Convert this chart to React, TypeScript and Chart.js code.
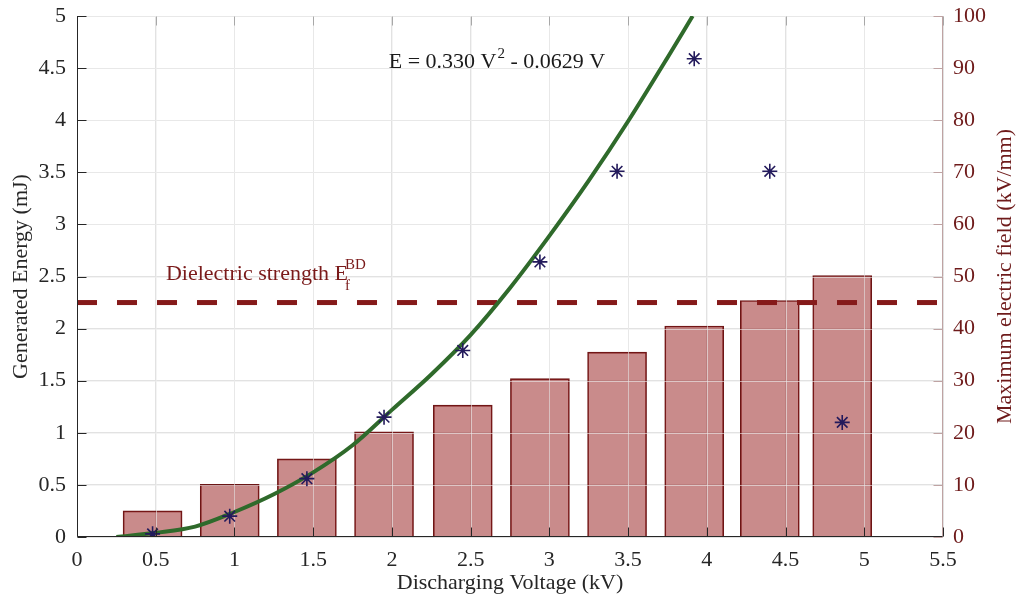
import React, { useEffect, useRef } from 'react';
import { Chart, registerables } from 'chart.js';

Chart.register(...registerables);

// ---- data ----
const voltages = [0.48, 0.97, 1.46, 1.95, 2.45, 2.94, 3.43, 3.92, 4.40, 4.86];
const maxField = [5, 10.1, 15, 20.2, 25.3, 30.4, 35.5, 40.5, 45.4, 50.2];
const energy = [0.03, 0.20, 0.56, 1.15, 1.79, 2.64, 3.51, 4.59, 3.51, 1.10];
const fitVoltage = [0.25, 0.5, 0.75, 1.0, 1.25, 1.5, 1.75, 2.0, 2.25, 2.5, 2.75, 3.0, 3.25, 3.5, 3.75, 3.91];
const fitEnergy = [0.0, 0.04, 0.10, 0.24, 0.41, 0.62, 0.88, 1.22, 1.56, 1.94, 2.39, 2.89, 3.42, 3.99, 4.60, 5.0];
const breakdownField = 45;
const xRange = [0, 5.5];
const energyRange = [0, 5];
const fieldRange = [0, 100];

const FONT = "'Liberation Serif', 'Times New Roman', serif";
const DARK = '#262626';
const RED_TEXT = '#6e1a1a';
const RIGHT_AXIS = '#bfa3a3';

const fmt = (v: any) => String(Number(Number(v).toFixed(3)));

const overlayPlugin = {
  id: 'overlay',
  afterDatasetDraw(chart: any, args: any) {
    if (args.index !== 3) return;
    const { ctx, chartArea: a, scales } = chart;
    ctx.save();
    ctx.beginPath();
    ctx.rect(a.left, a.top, a.right - a.left, a.bottom - a.top);
    ctx.clip();
    ctx.strokeStyle = 'rgba(236,236,236,0.6)';
    ctx.lineWidth = 1;
    for (const t of scales.x.ticks) {
      const px = Math.round(scales.x.getPixelForValue(t.value)) + 0.5;
      ctx.beginPath(); ctx.moveTo(px, a.top); ctx.lineTo(px, a.bottom); ctx.stroke();
    }
    for (const t of scales.y.ticks) {
      const py = Math.round(scales.y.getPixelForValue(t.value)) + 0.5;
      ctx.beginPath(); ctx.moveTo(a.left, py); ctx.lineTo(a.right, py); ctx.stroke();
    }
    ctx.restore();
  },
  afterDraw(chart: any) {
    const { ctx, chartArea: a, scales } = chart;
    const L = Math.round(a.left) + 0.5;
    const R = Math.round(a.right) - 0.5;
    const B = Math.round(a.bottom) - 0.5;
    const T = Math.round(a.top) + 0.5;
    const tl = 9;
    ctx.save();
    ctx.lineWidth = 1;
    for (const t of scales.x.ticks) {
      const px = Math.round(scales.x.getPixelForValue(t.value)) + 0.5;
      ctx.strokeStyle = DARK;
      ctx.beginPath(); ctx.moveTo(px, B); ctx.lineTo(px, B - tl); ctx.stroke();
      ctx.strokeStyle = '#a8a8a8';
      ctx.beginPath(); ctx.moveTo(px, T); ctx.lineTo(px, T + tl); ctx.stroke();
    }
    for (const t of scales.y.ticks) {
      const py = Math.round(scales.y.getPixelForValue(t.value)) + 0.5;
      ctx.strokeStyle = DARK;
      ctx.beginPath(); ctx.moveTo(L, py); ctx.lineTo(L + tl, py); ctx.stroke();
    }
    for (const t of scales.y1.ticks) {
      const py = Math.round(scales.y1.getPixelForValue(t.value)) + 0.5;
      ctx.strokeStyle = RIGHT_AXIS;
      ctx.beginPath(); ctx.moveTo(R, py); ctx.lineTo(R - tl, py); ctx.stroke();
    }
    ctx.strokeStyle = DARK;
    ctx.beginPath(); ctx.moveTo(L, a.top); ctx.lineTo(L, B); ctx.lineTo(a.right, B); ctx.stroke();
    ctx.strokeStyle = RIGHT_AXIS;
    ctx.beginPath(); ctx.moveTo(R, a.top); ctx.lineTo(R, B); ctx.stroke();

    // right axis title (reads bottom-to-top)
    ctx.fillStyle = RED_TEXT;
    ctx.font = `22px ${FONT}`;
    ctx.save();
    ctx.translate(1005, (a.top + a.bottom) / 2);
    ctx.rotate(-Math.PI / 2);
    ctx.textAlign = 'center';
    ctx.textBaseline = 'middle';
    ctx.fillText('Maximum electric field (kV/mm)', 0, 0);
    ctx.restore();

    // fit equation
    ctx.textAlign = 'left';
    ctx.textBaseline = 'alphabetic';
    ctx.fillStyle = '#1a1a1a';
    let x = scales.x.getPixelForValue(1.98);
    const yb = scales.y.getPixelForValue(4.5);
    ctx.font = `22px ${FONT}`;
    const p1 = 'E = 0.330 V';
    ctx.fillText(p1, x, yb);
    x += ctx.measureText(p1).width + 1;
    ctx.font = `15px ${FONT}`;
    ctx.fillText('2', x, yb - 10);
    x += ctx.measureText('2').width;
    ctx.font = `22px ${FONT}`;
    ctx.fillText(' - 0.0629 V', x, yb);

    // dielectric strength label
    ctx.fillStyle = '#7a1a1a';
    let dx = scales.x.getPixelForValue(0.565);
    const dyb = scales.y.getPixelForValue(2.47);
    ctx.font = `22px ${FONT}`;
    const d1 = 'Dielectric strength E';
    ctx.fillText(d1, dx, dyb);
    dx += ctx.measureText(d1).width - 3;
    ctx.font = `15px ${FONT}`;
    ctx.fillText('BD', dx, dyb - 11);
    ctx.fillText('f', dx, dyb + 10);
    ctx.restore();
  },
};

const fitVertical = (w: number) => (s: any) => {
  s.width = w;
  s.paddingTop = 0;
  s.paddingBottom = 0;
};

export default function App() {
  const ref = useRef<HTMLCanvasElement>(null);

  useEffect(() => {
    document.body.style.margin = '0';
    const canvas = ref.current;
    if (!canvas) return;
    Chart.defaults.font.family = FONT;
    const chart = new Chart(canvas, {
      type: 'line',
      data: {
        datasets: [
          {
            type: 'scatter',
            label: 'Measured energy',
            data: voltages.map((v, i) => ({ x: v, y: energy[i] })),
            yAxisID: 'y',
            pointStyle: 'star',
            pointRadius: 7.5,
            borderColor: '#231a5c',
            backgroundColor: '#231a5c',
            borderWidth: 1.6,
            order: 0,
          } as any,
          {
            type: 'line',
            label: 'Fit',
            data: fitVoltage.map((v, i) => ({ x: v, y: fitEnergy[i] })),
            yAxisID: 'y',
            borderColor: '#2f6a2b',
            borderWidth: 4,
            pointRadius: 0,
            cubicInterpolationMode: 'monotone',
            fill: false,
            order: 1,
          } as any,
          {
            type: 'line',
            label: 'Dielectric strength',
            data: [
              { x: xRange[0], y: breakdownField },
              { x: xRange[1], y: breakdownField },
            ],
            yAxisID: 'y1',
            borderColor: '#851a1a',
            borderWidth: 5,
            borderDash: [20, 20],
            pointRadius: 0,
            fill: false,
            order: 2,
          } as any,
          {
            type: 'bar',
            label: 'Maximum electric field',
            data: voltages.map((v, i) => ({ x: v, y: maxField[i] })),
            yAxisID: 'y1',
            backgroundColor: 'rgba(150,30,30,0.515)',
            borderColor: '#6b1616',
            borderWidth: 1,
            barThickness: 59,
            order: 3,
          } as any,
        ],
      },
      options: {
        animation: false,
        responsive: false,
        devicePixelRatio: 1,
        layout: { padding: { top: 16, left: 0, right: 0, bottom: 0 } },
        plugins: { legend: { display: false }, tooltip: { enabled: false } },
        scales: {
          x: {
            type: 'linear',
            min: xRange[0],
            max: xRange[1],
            offset: false,
            grid: { color: '#e2e2e2', drawTicks: false, offset: false },
            border: { display: false },
            ticks: { stepSize: 0.5, color: DARK, font: { size: 22 }, padding: 10, maxRotation: 0, callback: fmt },
            title: {
              display: true,
              text: 'Discharging Voltage (kV)',
              color: DARK,
              font: { size: 22 },
              padding: { top: 0, bottom: 8 },
            },
            afterFit: (s: any) => { s.height = 67; s.paddingLeft = 0; s.paddingRight = 0; },
          },
          y: {
            type: 'linear',
            position: 'left',
            min: energyRange[0],
            max: energyRange[1],
            grid: { color: '#e2e2e2', drawTicks: false },
            border: { display: false },
            ticks: { stepSize: 0.5, color: DARK, font: { size: 22 }, padding: 11, callback: fmt },
            title: {
              display: true,
              text: 'Generated Energy (mJ)',
              color: DARK,
              font: { size: 22 },
              padding: { top: 8, bottom: 0 },
            },
            afterFit: fitVertical(77),
          },
          y1: {
            type: 'linear',
            position: 'right',
            min: fieldRange[0],
            max: fieldRange[1],
            grid: { display: false, drawTicks: false },
            border: { display: false },
            ticks: { stepSize: 10, color: RED_TEXT, font: { size: 22 }, padding: 10, callback: fmt },
            afterFit: fitVertical(75),
          },
        },
      } as any,
      plugins: [overlayPlugin],
    });
    return () => chart.destroy();
  }, []);

  return (
    <div style={{ width: 1018, height: 604, background: '#fff' }}>
      <canvas ref={ref} width={1018} height={604} style={{ display: 'block' }} />
    </div>
  );
}
